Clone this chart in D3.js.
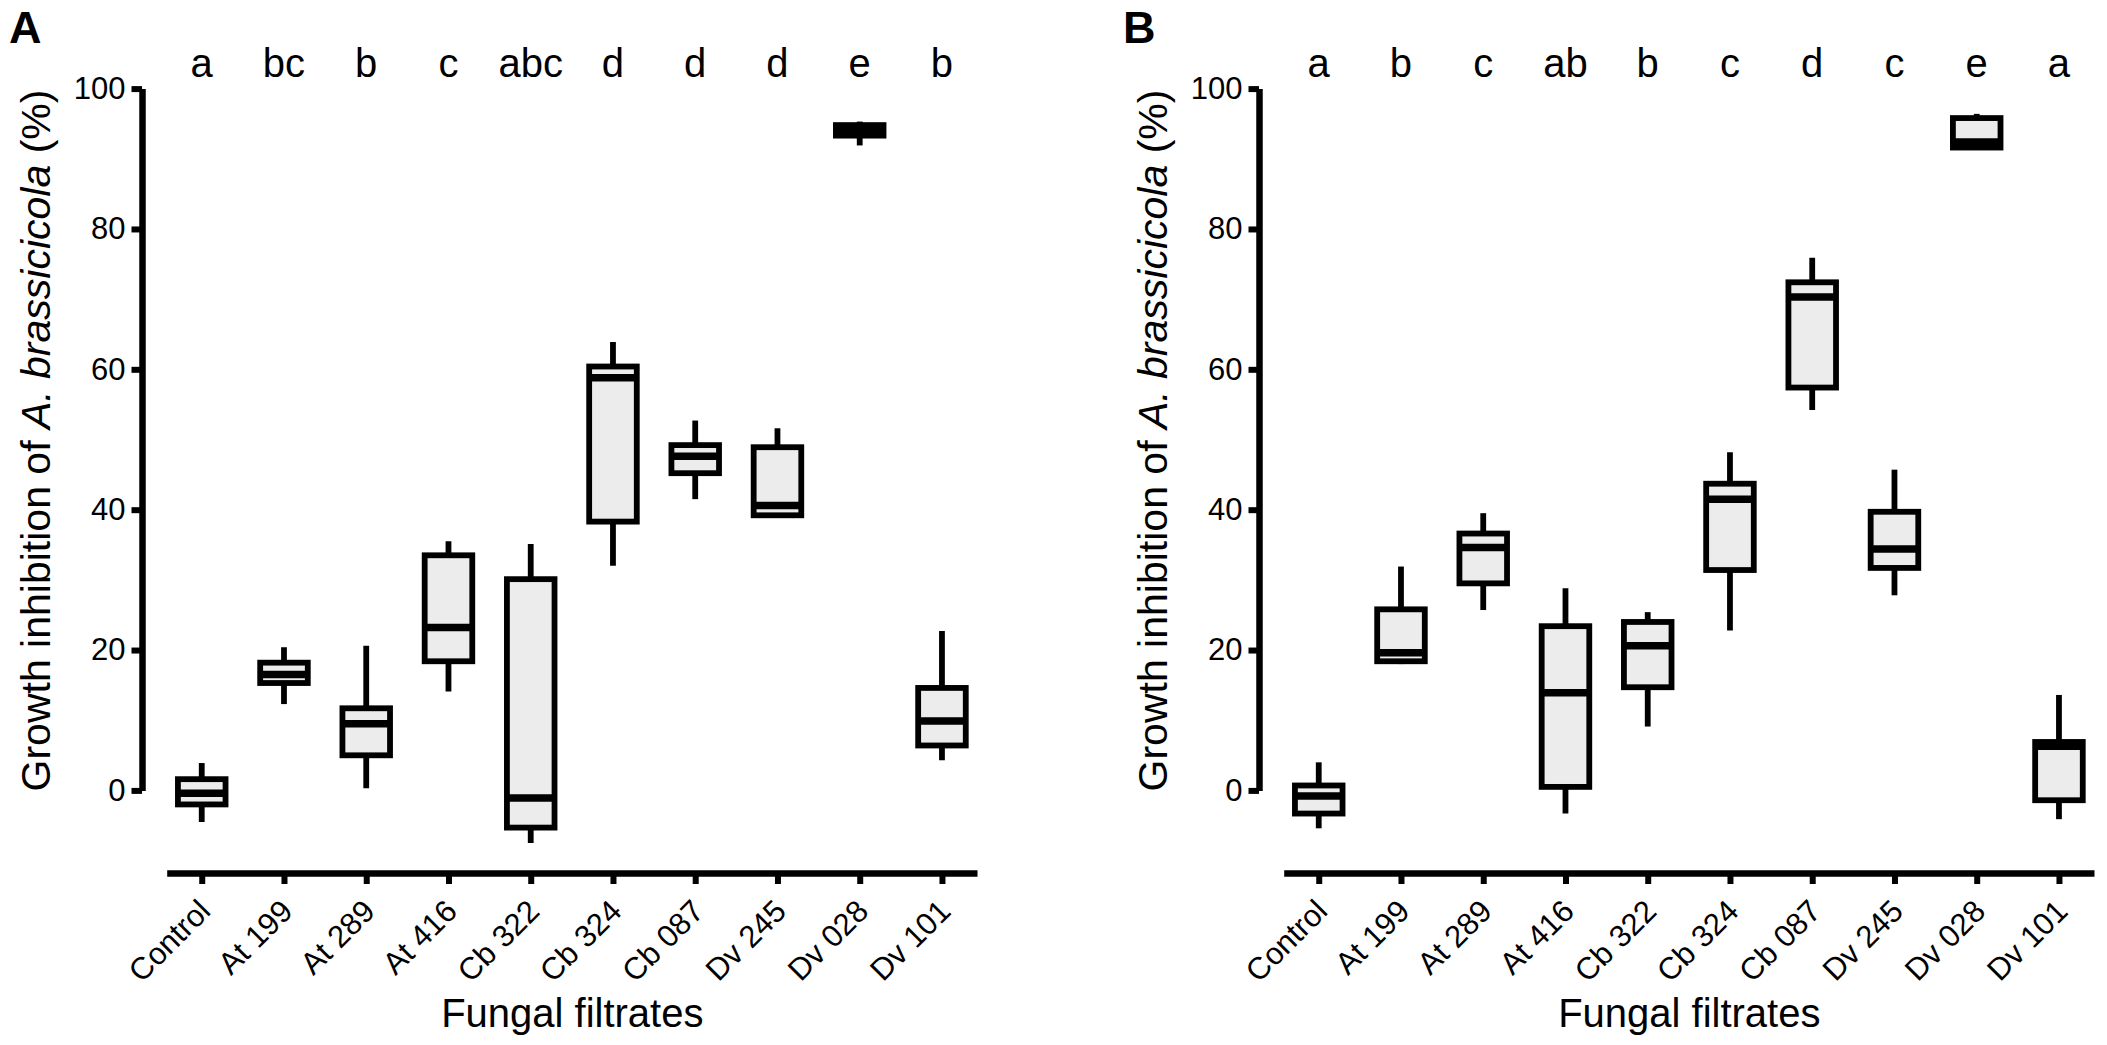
<!DOCTYPE html>
<html>
<head>
<meta charset="utf-8">
<script src="https://cdnjs.cloudflare.com/ajax/libs/d3/7.8.5/d3.min.js"></script>
<style>
	body { margin: 0; background: #fff; }
	svg text { font-family: 'Liberation Sans', Arial, sans-serif; fill: #000; }
</style>
</head>
<body>
<div id="chart"></div>
<script>
var categories = ['Control', 'At 199', 'At 289', 'At 416', 'Cb 322', 'Cb 324', 'Cb 087', 'Dv 245', 'Dv 028', 'Dv 101'];
var yTicks = [0, 20, 40, 60, 80, 100];

// panel A
var lettersA = ['a', 'bc', 'b', 'c', 'abc', 'd', 'd', 'd', 'e', 'b'];
var minA = [-4.5, 12.3, 0.3, 14.1, -7.5, 32.0, 41.5, 39.0, 91.9, 4.3];
var q1A = [-2.0, 15.3, 5.0, 18.4, -5.3, 38.3, 45.2, 39.2, 93.3, 6.4];
var medA = [-0.4, 16.5, 9.5, 23.2, -1.1, 58.8, 47.6, 40.6, 94.0, 9.9];
var q3A = [1.6, 18.2, 11.7, 33.5, 30.1, 60.4, 49.2, 48.9, 94.8, 14.6];
var maxA = [3.9, 20.4, 20.6, 35.5, 35.1, 63.9, 52.7, 51.6, 95.3, 22.7];

// panel B
var lettersB = ['a', 'b', 'c', 'ab', 'b', 'c', 'd', 'c', 'e', 'a'];
var minB = [-5.4, 18.0, 25.7, -3.3, 9.1, 22.8, 54.2, 27.8, 91.5, -4.1];
var q1B = [-3.3, 18.4, 29.5, 0.5, 14.7, 31.4, 57.4, 31.7, 91.6, -1.4];
var medB = [-0.8, 19.6, 34.6, 13.9, 20.6, 41.5, 70.3, 34.4, 92.4, 6.3];
var q3B = [0.7, 25.8, 36.6, 23.4, 24.0, 43.7, 72.4, 39.7, 95.8, 6.9];
var maxB = [4.0, 31.9, 39.5, 28.8, 25.4, 48.2, 75.9, 45.7, 96.4, 13.6];

var BoxPanel = function(svg, opts){
	this.svg = svg;
	this.off = opts.off ? opts.off : 0;
	this.label = opts.label;
	this.letters = opts.letters;
	this.data = categories.map((c, i) => {
		return {
			cat: c,
			min: opts.min[i],
			q1: opts.q1[i],
			med: opts.med[i],
			q3: opts.q3[i],
			max: opts.max[i],
			letter: opts.letters[i]
		}
	});
	this.boxWidth = 47.6;
	this.g = this.svg.append('g').attr('class', 'panel');
	this.createScales();
}

BoxPanel.prototype.createScales = function(){
	var off = this.off;

	this.x = d3.scalePoint()
		.domain(categories)
		.range([166.7 + off, 977 + off])
		.padding(0.426);

	this.y = d3.scaleLinear()
		.domain([0, 100])
		.range([790.4, 88.6]);

	this.createAxes();
}

BoxPanel.prototype.createAxes = function(){
	var off = this.off;

	var yAxis = this.g.append('g')
		.attr('class', 'y-axis')
		.attr('transform', 'translate(' + (142 + off) + ',0)')
		.call(d3.axisLeft(this.y).tickValues(yTicks).tickSize(10.5).tickSizeOuter(0).tickPadding(6));

	yAxis.select('.domain').attr('stroke-width', 6.5);
	yAxis.selectAll('.tick line').attr('stroke-width', 6);
	yAxis.selectAll('.tick text').attr('font-size', 31).attr('font-family', null);

	var xAxis = this.g.append('g')
		.attr('class', 'x-axis')
		.attr('transform', 'translate(0,873)')
		.call(d3.axisBottom(this.x).tickSize(11).tickSizeOuter(0));

	xAxis.select('.domain').attr('stroke-width', 6.5);
	xAxis.selectAll('.tick line').attr('stroke-width', 6);
	xAxis.selectAll('.tick text')
		.attr('font-size', 31)
		.attr('font-family', null)
		.attr('y', 0)
		.attr('dy', null)
		.attr('text-anchor', 'end')
		.attr('transform', 'translate(10,40) rotate(-45)');

	// axis titles
	var yTitle = this.g.append('text')
		.attr('transform', 'translate(' + (50 + off) + ',440.5) rotate(-90)')
		.attr('text-anchor', 'middle')
		.attr('font-size', 41);
	yTitle.append('tspan').text('Growth inhibition of ');
	yTitle.append('tspan').attr('font-style', 'italic').text('A. brassicicola');
	yTitle.append('tspan').text(' (%)');

	this.g.append('text')
		.attr('x', 572.3 + off)
		.attr('y', 1027)
		.attr('text-anchor', 'middle')
		.attr('font-size', 40)
		.text('Fungal filtrates');

	this.g.append('text')
		.attr('x', (this.label === 'B' ? 1123 : 9))
		.attr('y', 43)
		.attr('font-size', 45)
		.attr('font-weight', 'bold')
		.text(this.label);

	this.drawBoxes();
}

BoxPanel.prototype.drawBoxes = function(){
	var _this = this;
	var hw = this.boxWidth / 2;

	var box = this.g.selectAll('g.box')
		.data(this.data)
		.enter().append('g')
		.attr('class', 'box')
		.attr('transform', d => { return 'translate(' + _this.x(d.cat) + ',0)'; });

	box.append('line')
		.attr('class', 'whisker')
		.attr('x1', 0).attr('x2', 0)
		.attr('y1', d => { return _this.y(d.min); })
		.attr('y2', d => { return _this.y(d.max); })
		.attr('stroke', '#000')
		.attr('stroke-width', 5.8);

	box.append('rect')
		.attr('x', -hw)
		.attr('width', this.boxWidth)
		.attr('y', d => { return _this.y(d.q3); })
		.attr('height', d => { return _this.y(d.q1) - _this.y(d.q3); })
		.attr('fill', '#ececec')
		.attr('stroke', '#000')
		.attr('stroke-width', 5.8);

	box.append('line')
		.attr('class', 'median')
		.attr('x1', -hw).attr('x2', hw)
		.attr('y1', d => { return _this.y(d.med); })
		.attr('y2', d => { return _this.y(d.med); })
		.attr('stroke', '#000')
		.attr('stroke-width', 7.5);

	// significance letters
	this.g.selectAll('text.letter')
		.data(this.data)
		.enter().append('text')
		.attr('class', 'letter')
		.attr('x', d => { return _this.x(d.cat); })
		.attr('y', 77)
		.attr('text-anchor', 'middle')
		.attr('font-size', 40)
		.text(d => { return d.letter; });
}

var svg = d3.select('#chart').append('svg')
	.attr('width', 2107)
	.attr('height', 1045);

new BoxPanel(svg, {off: 0, label: 'A', letters: lettersA, min: minA, q1: q1A, med: medA, q3: q3A, max: maxA});
new BoxPanel(svg, {off: 1117, label: 'B', letters: lettersB, min: minB, q1: q1B, med: medB, q3: q3B, max: maxB});
</script>
</body>
</html>
